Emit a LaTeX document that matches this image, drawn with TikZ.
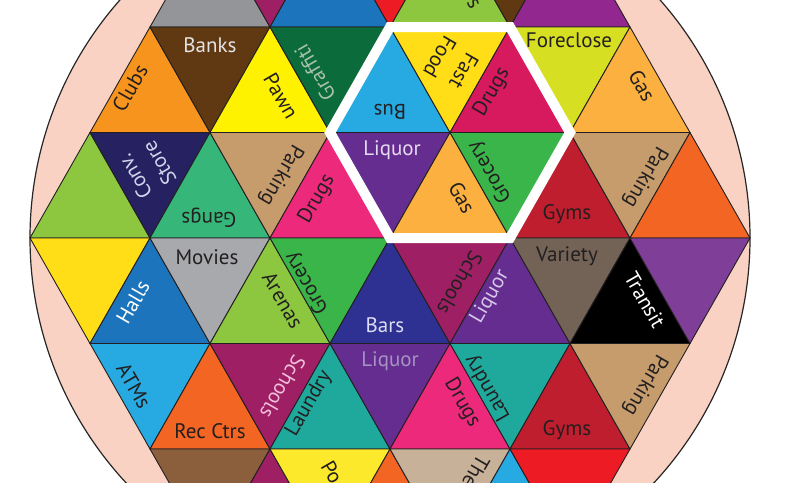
\documentclass[tikz,border=0pt]{standalone}
\usepackage{fontspec}
\setmainfont{PT Sans}
\definecolor{edgecol}{HTML}{231F20}
\definecolor{txtdark}{HTML}{231F20}
\definecolor{pinkband}{HTML}{F9D2C3}
\definecolor{cGrayTop}{HTML}{939598}
\definecolor{cMag}{HTML}{9E1F63}
\definecolor{cBlue}{HTML}{1C75BC}
\definecolor{cRed}{HTML}{ED1C24}
\definecolor{cLGreen}{HTML}{8DC63F}
\definecolor{cBrown}{HTML}{603913}
\definecolor{cPurpleB}{HTML}{92278F}
\definecolor{cOrange}{HTML}{F7941D}
\definecolor{cYellow}{HTML}{FFF200}
\definecolor{cDkGreen}{HTML}{0B6B3A}
\definecolor{cLtBlue}{HTML}{27AAE1}
\definecolor{cYellowB}{HTML}{FFDE17}
\definecolor{cDrugMag}{HTML}{D7195E}
\definecolor{cYelGreen}{HTML}{D7DF23}
\definecolor{cGasOr}{HTML}{FBB040}
\definecolor{cNavy}{HTML}{262262}
\definecolor{cGangs}{HTML}{37B67A}
\definecolor{cTan}{HTML}{C69C6D}
\definecolor{cPink}{HTML}{EC297B}
\definecolor{cPurple}{HTML}{662D91}
\definecolor{cGreen}{HTML}{39B54A}
\definecolor{cDkRed}{HTML}{BE1E2D}
\definecolor{cOrangeR}{HTML}{F26522}
\definecolor{cGray}{HTML}{A7A9AC}
\definecolor{cNavyB}{HTML}{2E3192}
\definecolor{cVariety}{HTML}{736357}
\definecolor{cPurpleC}{HTML}{7F3F98}
\definecolor{cTeal}{HTML}{1FA99D}
\definecolor{cBrownB}{HTML}{8B5E3C}
\definecolor{cYellowC}{HTML}{FDE92B}
\definecolor{cTanB}{HTML}{C7B299}
\definecolor{tBanks}{HTML}{E4E4E4}
\definecolor{tGraff}{HTML}{A9C2AE}
\definecolor{tConv}{HTML}{D5D3EB}
\definecolor{tLiqA}{HTML}{E6DAF0}
\definecolor{tBars}{HTML}{DCDDF2}
\definecolor{tLiqB}{HTML}{D6C8E8}
\definecolor{tSchool}{HTML}{F0BFDC}
\definecolor{tLiqC}{HTML}{A593C3}
\newcommand\uptri[3]{\filldraw[tri, fill=#1] (#2,#3) -- ++(-60,105.5) -- ++(120,0) -- cycle;}
\newcommand\dntri[3]{\filldraw[tri, fill=#1] (#2,#3) -- ++(-60,-105.5) -- ++(120,0) -- cycle;}
\begin{document}
\begin{tikzpicture}[x=1pt,y=-1pt,
  tri/.style={draw=edgecol, line width=0.9pt, line join=round},
  lbl/.style={font=\fontsize{21}{28}\selectfont, inner sep=0pt, align=center, text=txtdark}]
\useasboundingbox (0,0) rectangle (786,482);
\clip (0,0) rectangle (786,482);
\fill[white] (0,0) rectangle (786,482);
\filldraw[fill=pinkband, draw=black!85, line width=1.2pt] (390,238) circle [radius=360pt];
% row -3
\uptri{cGrayTop}{210}{-78.5}
\dntri{cMag}{270}{27}
\uptri{cBlue}{330}{-78.5}
\dntri{cRed}{390}{27}
\uptri{cLGreen}{450}{-78.5}
\dntri{cBrown}{510}{27}
\uptri{cPurpleB}{570}{-78.5}
% row -2
\uptri{cOrange}{150}{27}
\dntri{cBrown}{210}{132.5}
\uptri{cYellow}{270}{27}
\dntri{cDkGreen}{330}{132.5}
\uptri{cLtBlue}{390}{27}
\dntri{cYellowB}{450}{132.5}
\uptri{cDrugMag}{510}{27}
\dntri{cYelGreen}{570}{132.5}
\uptri{cGasOr}{630}{27}
% row -1
\uptri{cLGreen}{90}{132.5}
\dntri{cNavy}{150}{238}
\uptri{cGangs}{210}{132.5}
\dntri{cTan}{270}{238}
\uptri{cPink}{330}{132.5}
\dntri{cPurple}{390}{238}
\uptri{cGasOr}{450}{132.5}
\dntri{cGreen}{510}{238}
\uptri{cDkRed}{570}{132.5}
\dntri{cTan}{630}{238}
\uptri{cOrangeR}{690}{132.5}
% row 0
\dntri{cYellowB}{90}{343.5}
\uptri{cBlue}{150}{238}
\dntri{cGray}{210}{343.5}
\uptri{cLGreen}{270}{238}
\dntri{cGreen}{330}{343.5}
\uptri{cNavyB}{390}{238}
\dntri{cMag}{450}{343.5}
\uptri{cPurple}{510}{238}
\dntri{cVariety}{570}{343.5}
\uptri{black}{630}{238}
\dntri{cPurpleC}{690}{343.5}
% row 1
\dntri{cLtBlue}{150}{449}
\uptri{cOrangeR}{210}{343.5}
\dntri{cMag}{270}{449}
\uptri{cTeal}{330}{343.5}
\dntri{cPurple}{390}{449}
\uptri{cPink}{450}{343.5}
\dntri{cTeal}{510}{449}
\uptri{cDkRed}{570}{343.5}
\dntri{cTan}{630}{449}
% row 2
\dntri{cBrownB}{210}{554.5}
\uptri{cMag}{270}{449}
\dntri{cYellowC}{330}{554.5}
\uptri{cOrangeR}{390}{449}
\dntri{cTanB}{450}{554.5}
\uptri{cLtBlue}{510}{449}
\dntri{cRed}{570}{554.5}
% white hexagon
\draw[white, line width=10pt, line join=miter] (330,132.5) -- (390,27) -- (510,27) -- (570,132.5) -- (510,238) -- (390,238) -- cycle;
% labels
\node[lbl, text=tBanks] (banks) at (210,45) {Banks};
\node[lbl, rotate=60] (clubs) at (130,88) {Clubs};
\node[lbl, rotate=-60] (pawn) at (281,96) {Pawn};
\node[lbl, rotate=120, text=tGraff] (graffiti) at (315,73) {Graffiti};
\node[lbl, rotate=180] (bus) at (390,112) {Bus};
\node[lbl, rotate=-120] (fastfood) at (452,64) {Fast\\Food};
\node[lbl, rotate=60] (drugsA) at (492,92) {Drugs};
\node[lbl] (foreclose) at (569,40) {Foreclose};
\node[lbl, rotate=-60] (gasA) at (642,86) {Gas};
\node[lbl, rotate=120, text=tConv] (conv) at (147,170) {Conv.\\Store};
\node[lbl, rotate=180] (gangs) at (209,218) {Gangs};
\node[lbl, rotate=-120] (parkingA) at (281,175) {Parking};
\node[lbl, rotate=60] (drugsB) at (317,199) {Drugs};
\node[lbl, text=tLiqA] (liquorA) at (392,150) {Liquor};
\node[lbl, rotate=-60] (gasB) at (462,198) {Gas};
\node[lbl, rotate=120] (groceryA) at (490,172) {Grocery};
\node[lbl] (gymsA) at (567,214) {Gyms};
\node[lbl, rotate=-120] (parkingB) at (645,177) {Parking};
\node[lbl, rotate=60, text=white] (halls) at (133,302) {Halls};
\node[lbl] (movies) at (207,257) {Movies};
\node[lbl, rotate=-60] (arenas) at (283,300) {Arenas};
\node[lbl, rotate=120] (groceryB) at (307,283) {Grocery};
\node[lbl, text=tBars] (bars) at (385,325) {Bars};
\node[lbl, rotate=-120] (schoolsA) at (460,283) {Schools};
\node[lbl, rotate=60, text=tLiqB] (liquorB) at (490,297) {Liquor};
\node[lbl] (variety) at (567,256) {Variety};
\node[lbl, rotate=-60, text=white] (transit) at (645,300) {Transit};
\node[lbl, rotate=-60] (atms) at (134,386) {ATMs};
\node[lbl] (recctrs) at (210,431) {Rec Ctrs};
\node[lbl, rotate=-120, text=tSchool] (schoolsB) at (283,387) {Schools};
\node[lbl, rotate=60] (laundryA) at (309,404) {Laundry};
\node[lbl, text=tLiqC] (liquorC) at (390,361) {Liquor};
\node[lbl, rotate=-60] (drugsC) at (462,403) {Drugs};
\node[lbl, rotate=120] (laundryB) at (488,388) {Laundry};
\node[lbl] (gymsB) at (567,430) {Gyms};
\node[lbl, rotate=-120] (parkingC) at (645,385) {Parking};
\node[lbl, rotate=-60] (po) at (332,472) {Po};
\node[lbl, rotate=-120] (the) at (476,472) {The};
\node[lbl, rotate=-60] (sfrag) at (473,4) {s};
\end{tikzpicture}
\end{document}
